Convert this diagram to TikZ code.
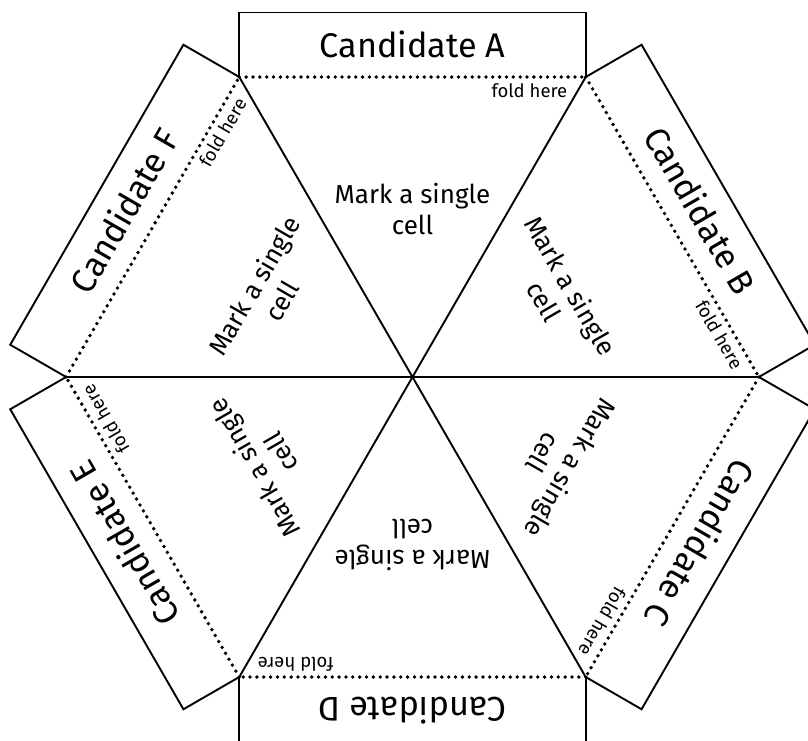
\documentclass[tikz,border=0pt]{standalone}
\usepackage{fontspec}
\setmainfont{Fira Sans}
\begin{document}
\begin{tikzpicture}[x=1pt,y=1pt,
  solidline/.style={line width=1.9pt, line join=miter},
  foldline/.style={line width=3.8pt, line cap=round, dash pattern=on 0pt off 6.85pt},
  candtext/.style={font=\fontsize{34.2}{40}\selectfont, anchor=base, inner sep=0pt},
  foldtext/.style={font=\fontsize{18.5}{20}\selectfont, anchor=base east, inner sep=0pt},
  marktext/.style={font=\fontsize{26}{31}\selectfont, align=center, inner sep=0pt}]
\path[use as bounding box, clip] (-412.5,-363) rectangle (395.5,377);
\coordinate (o) at (0,0);
\foreach \ang/\lab in {0/A,-60/B,-120/C,180/D,120/E,60/F}{
 \begin{scope}[rotate=\ang, transform shape]
  \coordinate (l\lab) at (-173.2,300);
  \coordinate (r\lab) at (173.2,300);
  \coordinate (lt\lab) at (-173.2,364.5);
  \coordinate (rt\lab) at (173.2,364.5);
  \draw[solidline] (l\lab) -- (lt\lab) -- (rt\lab) -- (r\lab);
  \draw[foldline] (l\lab) -- (r\lab);
  \draw[solidline] (o) -- (l\lab);
  \node[candtext] (cand\lab) at (0,320) {Candidate \lab};
  \node[foldtext] (fold\lab) at (155,280) {fold here};
  \node[marktext] (mark\lab) at (0,167.5) {Mark a single\\cell};
 \end{scope}}
\end{tikzpicture}
\end{document}
